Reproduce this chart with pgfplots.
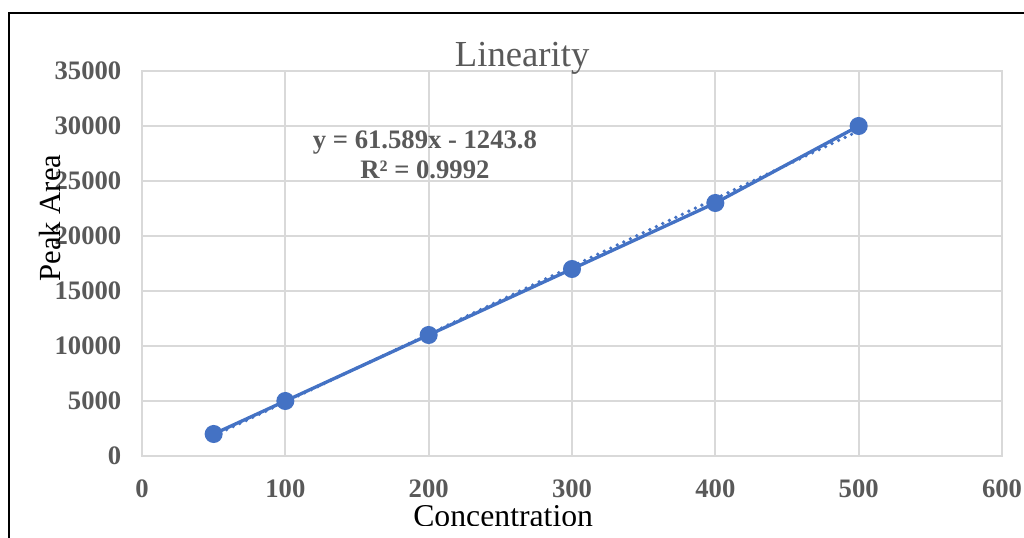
\documentclass[border=0pt]{standalone}
\usepackage{fontspec}
\setmainfont{Liberation Serif}
\usepackage{pgfplots}
\pgfplotsset{compat=1.18}
\definecolor{series}{HTML}{4472C4}
\definecolor{txt}{HTML}{595959}
\definecolor{grd}{HTML}{D9D9D9}
\begin{document}
\begin{tikzpicture}[x=0.75pt,y=0.75pt]
\useasboundingbox (0,0) rectangle (1024,538);
\begin{axis}[
  at={(106.5pt,61.5pt)}, anchor=south west,
  scale only axis, width=645pt, height=288.75pt,
  xmin=0, xmax=600, ymin=0, ymax=35000,
  xtick={0,100,...,600}, ytick={0,5000,...,35000},
  scaled ticks=false,
  /pgf/number format/assume math mode=true,
  /pgf/number format/1000 sep={},
  tick style={draw=none},
  grid=major,
  major grid style={draw=grd, line width=1.5pt},
  axis line style={draw=grd, line width=1.5pt},
  ticklabel style={font=\fontsize{20}{24}\selectfont\bfseries, text=txt},
  xticklabel style={yshift=-14pt},
  yticklabel style={xshift=-12pt},
  clip=false,
]
\addplot[series, line width=2.5pt, mark=*, mark size=5.5pt, mark options={fill=series, draw=series}]
  coordinates {(50,2000) (100,5000) (200,11000) (300,17000) (400,23000) (500,30000)};
\addplot[series, line width=2.8pt, line cap=round, dash pattern=on 0pt off 5.4pt, forget plot]
  coordinates {(50,1835.65) (500,29550.7)};
\node[font=\fontsize{27.5}{30}\selectfont, text=txt, anchor=base] at (rel axis cs:0.442,1.0104) {Linearity};
\node[font=\fontsize{23}{26}\selectfont, rotate=90] at (rel axis cs:-0.107,0.618) {Peak Area};
\node[font=\fontsize{23.8}{26}\selectfont, anchor=base] at (rel axis cs:0.42,-0.184) {Concentration};
\node[font=\fontsize{20}{22}\selectfont\bfseries, text=txt, align=center] at (rel axis cs:0.329,0.782) {y = 61.589x - 1243.8\\R² = 0.9992};
\end{axis}
\fill[white] (12,0) rectangle (1024,12);
\draw[line width=1.1pt] (9,0) -- (9,525) -- (1024,525);
\end{tikzpicture}
\end{document}
